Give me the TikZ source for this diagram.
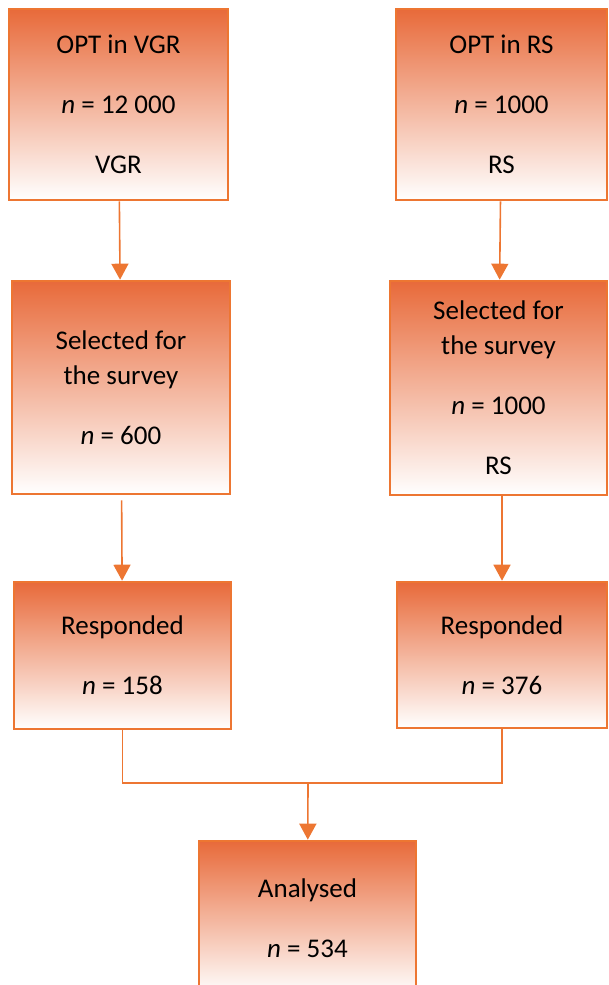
\documentclass[tikz,border=0pt]{standalone}
\usepackage{fontspec}
\setmainfont{Carlito}
\usetikzlibrary{arrows.meta}
\definecolor{boxtop}{RGB}{232,106,58}
\definecolor{boxline}{RGB}{237,118,50}
\begin{document}
\begin{tikzpicture}[
  x=1pt, y=-1pt,
  every node/.style={font=\fontsize{27}{35}\selectfont},
  stage/.style={rectangle, draw=boxline, line width=2.6pt, top color=boxtop, bottom color=white,
    align=center, inner sep=0pt},
  arr/.style={draw=boxline, line width=1.6pt, -{Triangle[width=17pt,length=16pt]}},
  link/.style={draw=boxline, line width=1.6pt}
]
\useasboundingbox (0,0) rectangle (609,985);
% top row
\node[stage, minimum width=219pt, minimum height=191pt] (vgr) at (118.5,104.5)
  {OPT in VGR\\[25pt] \textit{n} = 12 000\\[25pt] VGR};
\node[stage, minimum width=211pt, minimum height=191pt] (rs) at (501.5,104.5)
  {OPT in RS\\[25pt] \textit{n} = 1000\\[25pt] RS};
% selected
\node[stage, minimum width=218pt, minimum height=213pt] (selv) at (121,387.5)
  {Selected for\\the survey\\[25pt] \textit{n} = 600};
\node[stage, minimum width=217pt, minimum height=214pt] (selr) at (498.5,388)
  {Selected for\\the survey\\[25pt] \textit{n} = 1000\\[25pt] RS};
% responded
\node[stage, minimum width=217pt, minimum height=147pt] (respv) at (122.5,655.5)
  {Responded\\[25pt] \textit{n} = 158};
\node[stage, minimum width=210pt, minimum height=146pt] (respr) at (502,655)
  {Responded\\[25pt] \textit{n} = 376};
% analysed
\node[stage, minimum width=217pt, minimum height=154pt] (anal) at (307.5,918)
  {Analysed\\[25pt] \textit{n} = 534};
\coordinate (join) at (308,783);

\draw[arr] (vgr) -- (selv);
\draw[arr] (rs) -- (selr);
\draw[arr, shorten <=5pt] (selv) -- (respv);
\draw[arr] (selr.south -| respr.north) -- (respr);
\draw[link] (respv.south) |- (join) -| (respr.south);
\draw[arr] (join) -- (anal);
\end{tikzpicture}
\end{document}
